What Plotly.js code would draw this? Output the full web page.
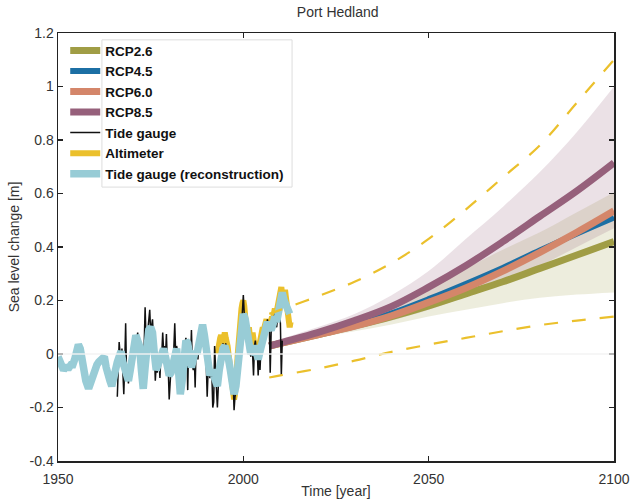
<!DOCTYPE html>
<html>
<head>
<meta charset="utf-8">
<script src="https://cdn.plot.ly/plotly-3.0.1.min.js"></script>
<style>html,body{margin:0;padding:0;background:#fff;}#chart{width:630px;height:501px;}</style>
</head>
<body>
<div id="chart"></div>
<script>
// ---------- data ----------
const projYears = [2007, 2010, 2020, 2030, 2040, 2050, 2060, 2070, 2080, 2090, 2100];
const rcp26 = [0.03, 0.04, 0.072, 0.105, 0.14, 0.18, 0.225, 0.27, 0.32, 0.37, 0.42];
const rcp45 = [0.03, 0.04, 0.074, 0.107, 0.152, 0.205, 0.262, 0.322, 0.387, 0.45, 0.51];
const rcp60 = [0.03, 0.04, 0.072, 0.104, 0.143, 0.193, 0.247, 0.31, 0.38, 0.455, 0.535];
const rcp85 = [0.03, 0.042, 0.08, 0.125, 0.178, 0.25, 0.33, 0.42, 0.515, 0.61, 0.715];
const rcp26Low  = [0.02, 0.028, 0.06, 0.085, 0.11, 0.14, 0.165, 0.19, 0.21, 0.222, 0.23];
const rcp26High = [0.04, 0.05, 0.09, 0.135, 0.19, 0.255, 0.32, 0.39, 0.455, 0.53, 0.605];
const rcp85Low  = [0.02, 0.03, 0.06, 0.09, 0.125, 0.165, 0.215, 0.27, 0.33, 0.40, 0.47];
const rcp85High = [0.04, 0.055, 0.10, 0.15, 0.22, 0.31, 0.43, 0.55, 0.68, 0.83, 1.0];
const upperDash = [0.15, 0.165, 0.215, 0.27, 0.34, 0.43, 0.54, 0.66, 0.78, 0.94, 1.1];
const lowerDash = [-0.088, -0.08, -0.055, -0.025, 0.008, 0.035, 0.06, 0.085, 0.108, 0.125, 0.14];

// reconstruction, half-year steps from 1950.0
const reconStart = 1950.0, reconStep = 0.5;
const recon = [
 -0.01,-0.03,-0.05,-0.06,-0.05,-0.05,-0.05,-0.04,-0.04,-0.02,
  0.01,0.035,0.02,-0.03,-0.07,-0.10,-0.12,-0.12,-0.10,-0.07,
 -0.05,-0.04,-0.03,-0.02,-0.02,-0.01,-0.05,-0.09,-0.10,-0.12,
 -0.10,-0.06,-0.03,0.00,0.01,-0.03,-0.06,-0.09,-0.10,-0.06,
 -0.02,0.05,0.07,0.05,0.03,-0.06,-0.13,-0.05,0.04,0.09,
  0.10,0.08,0.00,-0.06,-0.04,-0.02,0.00,0.02,-0.01,-0.05,
 -0.08,-0.07,-0.03,0.00,0.02,-0.06,-0.15,-0.10,0.00,0.05,
  0.04,-0.01,-0.05,-0.02,0.01,0.00,0.03,0.08,0.11,0.07,
  0.00,-0.05,-0.08,-0.06,-0.08,-0.11,-0.12,-0.06,-0.01,0.02,
  0.03,0.01,-0.02,-0.06,-0.10,-0.15,-0.12,-0.04,0.06,0.12,
  0.15,0.13,0.08,0.03,0.00,0.01,0.03,0.01,-0.02,0.01,
  0.04,0.08,0.11,0.12,0.10,0.09,0.11,0.14,0.12,0.17,
  0.22,0.23,0.20,0.18,0.17,0.15
];

// tide gauge, quarter-year steps from 1966.0
const gaugeStart = 1966.0, gaugeStep = 0.25;
const gauge = [
 -0.16,-0.02,0.045,0.00,   -0.04,0.02,-0.05,-0.15,  -0.04,0.115,-0.08,-0.06,  -0.11,-0.08,-0.03,-0.05,
 -0.02,0.02,0.06,0.04,     0.07,0.05,0.08,0.03,     0.04,0.00,-0.08,-0.04,   -0.10,0.03,0.175,0.06,
  0.05,0.09,0.12,0.165,    0.08,0.11,0.13,0.06,     0.02,-0.10,-0.04,-0.07,  -0.04,-0.02,-0.09,-0.01,
  0.00,0.08,0.01,0.03,     -0.01,0.075,-0.04,-0.06, -0.17,-0.07,-0.05,-0.08, -0.03,0.02,0.115,0.00,
  0.03,0.01,-0.04,-0.08,   -0.13,-0.14,-0.09,-0.11, 0.00,0.04,0.06,0.03,     -0.135,0.04,-0.01,-0.03,
  0.09,-0.04,-0.06,0.00,   -0.125,0.02,0.01,-0.02,  0.03,0.05,0.08,0.11,     0.10,0.08,0.05,0.01,
 -0.04,-0.16,-0.06,-0.08,  -0.09,-0.05,-0.07,-0.20, -0.18,0.03,-0.10,-0.13,  -0.20,-0.08,-0.04,-0.02,
  0.00,0.02,0.04,0.01,     0.02,0.04,0.00,0.02,     -0.03,-0.01,-0.07,-0.05, -0.12,-0.10,-0.21,-0.16,
 -0.14,-0.05,-0.03,0.05,   0.07,0.12,0.10,0.16,     0.22,0.15,0.12,0.10,     0.06,0.09,0.02,0.04,
 -0.01,0.02,0.00,-0.08,    0.03,0.05,0.00,0.02,     -0.08,0.00,-0.06,0.02,   0.04,0.06,0.09,0.07,
  0.11,0.09,0.13,0.10,     0.12,-0.07,0.08,0.10,    0.11,0.13,0.15,0.12,     0.10,0.14,0.17,0.15,
  0.115,-0.08,0.05
];

// altimeter, quarter-year steps from 1993.0
const altStart = 1993.0, altStep = 0.25;
const altimeter = [
  0.00,0.03,0.05,0.06,  0.07,0.05,0.04,0.06,  0.08,0.06,0.05,0.03,  0.00,-0.03,-0.05,-0.08,
 -0.10,-0.13,-0.17,-0.15, -0.12,-0.06,0.00,0.06, 0.10,0.14,0.17,0.19, 0.20,0.18,0.14,0.10,
  0.06,0.08,0.10,0.07,  0.04,0.05,0.08,0.06,  0.02,0.00,-0.02,-0.01, 0.01,0.03,0.05,0.06,
  0.08,0.10,0.09,0.11,  0.12,0.13,0.11,0.10,  0.09,0.11,0.13,0.14,  0.13,0.15,0.17,0.14,
  0.16,0.19,0.21,0.23,  0.24,0.25,0.22,0.20,  0.22,0.24,0.21,0.18,  0.14,0.11,0.10,0.12
];

const xRange = [1950, 2100];
const yRange = [-0.4, 1.2];
const xTickVals = [1950, 2000, 2050, 2100];
const xTickText = ['1950', '2000', '2050', '2100'];
const yTickVals = [-0.4, -0.2, 0, 0.2, 0.4, 0.6, 0.8, 1.0, 1.2];
const yTickText = ['-0.4', '-0.2', '0', '0.2', '0.4', '0.6', '0.8', '1', '1.2'];

// ---------- helpers ----------
function years(start, step, n) { const a = []; for (let i = 0; i < n; i++) a.push(+(start + i * step).toFixed(2)); return a; }

const C = {
  r26: '#a09d45', r45: '#1c6fa4', r60: '#d4866a', r85: '#96607b',
  gauge: '#111111', alt: '#ebc02c', recon: '#98ccd6', dash: '#ebc02c'
};

function band(lo, hi, fill) {
  return [
    { x: projYears, y: lo, mode: 'lines', line: { width: 0, shape: 'spline' }, showlegend: false, hoverinfo: 'skip' },
    { x: projYears, y: hi, mode: 'lines', line: { width: 0, shape: 'spline' }, fill: 'tonexty', fillcolor: fill, showlegend: false, hoverinfo: 'skip' }
  ];
}

const traces = [
  ...band(rcp26Low, rcp26High, 'rgba(165,165,85,0.2)'),
  ...band(rcp85Low, rcp85High, 'rgba(150,96,123,0.19)'),
  { x: projYears, y: rcp26, name: 'RCP2.6', mode: 'lines', line: { color: C.r26, width: 7, shape: 'spline' }, legendrank: 1 },
  { x: projYears, y: rcp45, name: 'RCP4.5', mode: 'lines', line: { color: C.r45, width: 6, shape: 'spline' }, legendrank: 2 },
  { x: projYears, y: rcp60, name: 'RCP6.0', mode: 'lines', line: { color: C.r60, width: 7, shape: 'spline' }, legendrank: 3 },
  { x: projYears, y: rcp85, name: 'RCP8.5', mode: 'lines', line: { color: C.r85, width: 7, shape: 'spline' }, legendrank: 4 },
  { x: years(altStart, altStep, altimeter.length), y: altimeter, name: 'Altimeter', mode: 'lines', line: { color: C.alt, width: 6 }, legendrank: 6 },
  { x: years(gaugeStart, gaugeStep, gauge.length), y: gauge, name: 'Tide gauge', mode: 'lines', line: { color: C.gauge, width: 1.5 }, legendrank: 5 },
  { x: years(reconStart, reconStep, recon.length), y: recon, name: 'Tide gauge (reconstruction)', mode: 'lines', line: { color: C.recon, width: 7.5 }, legendrank: 7 },
  { x: projYears, y: upperDash, mode: 'lines', line: { color: C.dash, width: 2.2, dash: '14px,14px', shape: 'spline' }, showlegend: false },
  { x: projYears, y: lowerDash, mode: 'lines', line: { color: C.dash, width: 2.2, dash: '14px,14px', shape: 'spline' }, showlegend: false }
];

const fontFam = '"Liberation Sans", Arial, Helvetica, sans-serif';

const layout = {
  width: 630, height: 501,
  margin: { l: 58, r: 16, t: 33, b: 40, pad: 0 },
  paper_bgcolor: '#ffffff', plot_bgcolor: '#ffffff',
  font: { family: fontFam, size: 14, color: '#333333' },
  showlegend: true,
  title: { text: 'Port Hedland', x: 0.536, xanchor: 'center', y: 0.976, yanchor: 'middle', font: { size: 14, color: '#333333' } },
  xaxis: {
    range: xRange, tickvals: xTickVals, ticktext: xTickText,
    showgrid: false, zeroline: false, showline: true, linecolor: '#222', linewidth: 1.5, mirror: 'ticks',
    ticks: 'inside', ticklen: 5, tickwidth: 1.5, tickcolor: '#222', tickfont: { size: 14 }, ticklabelstandoff: 5,
    title: { text: 'Time [year]', standoff: 0, font: { size: 14 } }, automargin: false
  },
  yaxis: {
    range: yRange, tickvals: yTickVals, ticktext: yTickText,
    showgrid: false, zeroline: false, showline: true, linecolor: '#222', linewidth: 1.5, mirror: 'ticks',
    ticks: 'inside', ticklen: 5, tickwidth: 1.5, tickcolor: '#222', tickfont: { size: 14 },
    title: { text: 'Sea level change [m]', standoff: 6, font: { size: 14 } }, automargin: false
  },
  legend: {
    x: 0.013, y: 0.995, xanchor: 'left', yanchor: 'top', traceorder: 'normal',
    bgcolor: 'rgba(0,0,0,0)', borderwidth: 0,
    font: { size: 13.5, color: '#111', weight: 'bold' }, tracegroupgap: 0
  },
  shapes: [
    { type: 'rect', xref: 'paper', yref: 'paper', x0: 0.079, x1: 0.421, y0: 0.640, y1: 0.984,
      line: { color: '#dddddd', width: 1 }, fillcolor: '#ffffff', layer: 'below' },
    { type: 'line', xref: 'paper', yref: 'y', x0: 0, x1: 1, y0: 0, y1: 0,
      line: { color: 'rgba(242,242,242,0.95)', width: 1.5 }, layer: 'above' }
  ]
};

Plotly.newPlot('chart', traces, layout, { displayModeBar: false, staticPlot: true });
</script>
</body>
</html>
